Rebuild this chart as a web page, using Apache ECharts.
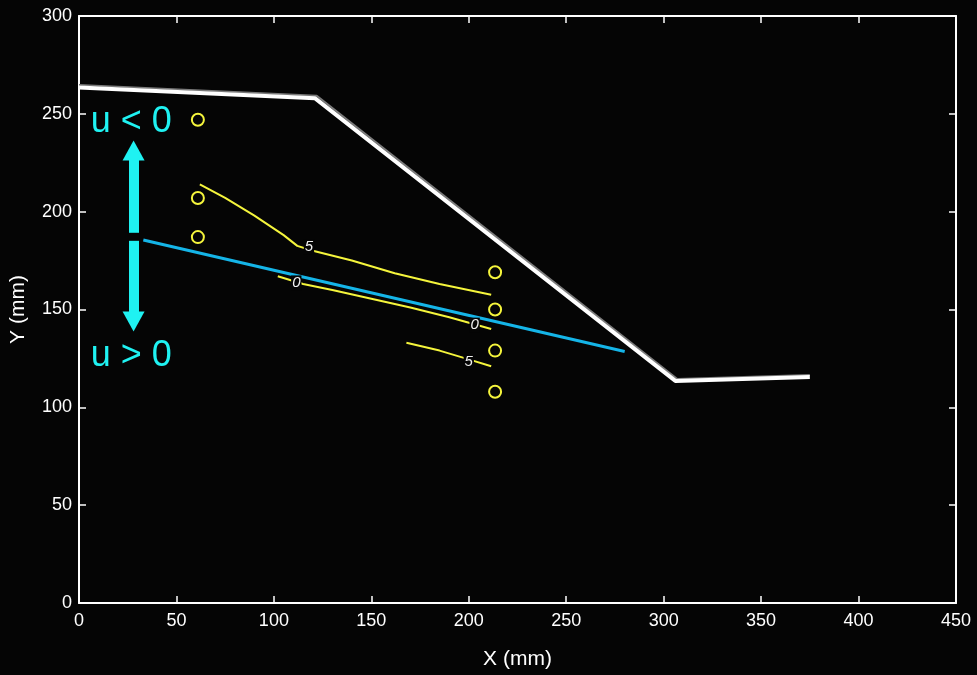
<!DOCTYPE html>
<html><head><meta charset="utf-8">
<script src="https://cdn.jsdelivr.net/npm/echarts@6/dist/echarts.min.js"></script>
<style>html,body{margin:0;padding:0;background:#050505;}#c{width:977px;height:675px;}</style>
</head><body><div id="c"></div>
<script>
// Axis ticks
const xTicks = [0, 50, 100, 150, 200, 250, 300, 350, 400, 450];
const yTicks = [0, 50, 100, 150, 200, 250, 300];
// Surface profile (white) and previous profile (grey)
const profileX = [0, 121, 306, 375];
const profileY = [263.5, 258, 113.5, 115.5];
const prevProfileX = [0, 122, 307, 375];
const prevProfileY = [264.8, 259.2, 114.5, 116.5];
// Blue line
const blueX = [33, 280];
const blueY = [185.5, 128.5];
// Yellow circles (gauges)
const circLeftX = [61, 61, 61];
const circLeftY = [247, 207, 187];
const circRightX = [213.5, 213.5, 213.5, 213.5];
const circRightY = [169, 150, 129, 108];
// Contours
const c5upX = [62, 75, 90, 105, 112, 120, 140, 162, 185, 211.5];
const c5upY = [214, 207, 198, 188, 182.5, 180, 175, 168.5, 163, 157.5];
const c0X = [102, 115, 130, 150, 170, 190, 201, 211.5];
const c0Y = [167, 163, 160, 155.5, 151, 146, 143, 140];
const c5loX = [168, 185, 200, 211.5];
const c5loY = [133, 129, 124.5, 121];
// Contour labels
const clabX = [118, 111.5, 203, 200];
const clabY = [182, 163.6, 142, 123.2];
const clabT = ['5', '0', '0', '5'];
// Annotation
const annT = ['u < 0', 'u > 0'];
const annX = [6, 6];
const annY = [246, 126];
const arrowX = 28;
const arrowUp = [189.2, 231.3];
const arrowDown = [185.1, 143.9];

const zip = (a, b) => a.map((v, i) => [v, b[i]]);
const FONT = 'Liberation Sans';
const W = '#ffffff';
const YEL = '#f5f53c';
const CY = '#1ff2f2';

const baseX = {type:'value', min:0, max:450, interval:50,
  axisLine:{show:true, onZero:false, lineStyle:{color:W, width:2}},
  axisTick:{show:true, inside:true, length:7, lineStyle:{color:W, width:1.5}},
  splitLine:{show:false}};
const baseY = {type:'value', min:0, max:300, interval:50,
  axisLine:{show:true, onZero:false, lineStyle:{color:W, width:2}},
  axisTick:{show:true, inside:true, length:7, lineStyle:{color:W, width:1.5}},
  splitLine:{show:false}};

const chart = echarts.init(document.getElementById('c'), null, {renderer:'canvas'});
chart.setOption({
  backgroundColor:'#050505',
  animation:false,
  textStyle:{fontFamily:FONT},
  grid:{left:76, right:21, top:16, bottom:72, containLabel:false},
  xAxis:[
    Object.assign({}, baseX, {position:'bottom', name:'X (mm)', nameLocation:'middle', nameGap:46,
      nameTextStyle:{color:W, fontSize:21, fontFamily:FONT},
      axisLabel:{color:W, fontSize:18, fontFamily:FONT, margin:9}}),
    Object.assign({}, baseX, {position:'top', axisLabel:{show:false}})
  ],
  yAxis:[
    Object.assign({}, baseY, {position:'left', name:'Y (mm)', nameLocation:'middle', nameGap:50,
      nameTextStyle:{color:W, fontSize:21, fontFamily:FONT},
      axisLabel:{color:W, fontSize:18, fontFamily:FONT, margin:7}}),
    Object.assign({}, baseY, {position:'right', axisLabel:{show:false}})
  ],
  series:[
    {type:'line', data:zip(prevProfileX, prevProfileY), symbol:'none', lineStyle:{color:'#7a7a7a', width:2}, z:2},
    {type:'line', data:zip(profileX, profileY), symbol:'none', lineStyle:{color:W, width:4}, z:3},
    {type:'line', data:zip(blueX, blueY), symbol:'none', lineStyle:{color:'#15b5e8', width:3}, z:3},
    {type:'line', data:zip(c5upX, c5upY), symbol:'none', lineStyle:{color:YEL, width:2}, z:2},
    {type:'line', data:zip(c0X, c0Y), symbol:'none', lineStyle:{color:YEL, width:2}, z:2},
    {type:'line', data:zip(c5loX, c5loY), symbol:'none', lineStyle:{color:YEL, width:2}, z:2},
    {type:'scatter', data:zip(circLeftX, circLeftY).concat(zip(circRightX, circRightY)),
      symbol:'circle', symbolSize:12, itemStyle:{color:'transparent', borderColor:YEL, borderWidth:2, opacity:1}, z:4},
    {type:'scatter', data:clabX.map((x,i)=>({value:[x, clabY[i]], name:clabT[i]})), symbolSize:0, z:5,
      itemStyle:{opacity:1},
      label:{show:true, position:'inside', formatter:p=>p.name, color:'#f0f0f0', fontSize:15, fontStyle:'italic',
        fontFamily:FONT, backgroundColor:'#050505', padding:[0,1]}},
    {type:'scatter', data:annX.map((x,i)=>({value:[x, annY[i]], name:annT[i]})), symbolSize:0, z:5,
      itemStyle:{opacity:1},
      label:{show:true, position:'right', distance:0, formatter:p=>p.name, color:CY, fontSize:36, fontFamily:FONT},
      markLine:{silent:true, symbol:['none','triangle'], symbolSize:[22,20], label:{show:false},
        lineStyle:{color:CY, width:10, type:'solid', opacity:1}, emphasis:{disabled:true},
        data:[
          [{coord:[arrowX, arrowUp[0]]},{coord:[arrowX, arrowUp[1]]}],
          [{coord:[arrowX, arrowDown[0]]},{coord:[arrowX, arrowDown[1]]}]
        ]}}
  ]
});
</script></body></html>
